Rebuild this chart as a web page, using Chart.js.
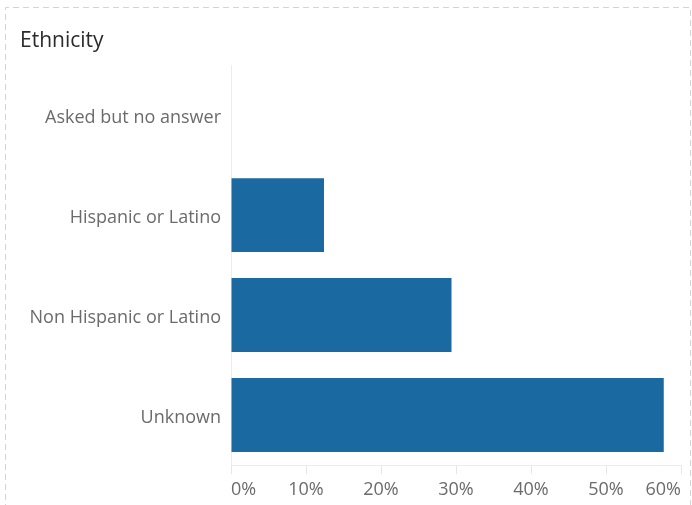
<!DOCTYPE html>
<html>
<head>
<meta charset="utf-8">
<script src="https://cdn.jsdelivr.net/npm/chart.js@4/dist/chart.umd.min.js"></script>
<style>
  html, body { margin: 0; padding: 0; background: #fff; }
  #wrap { position: absolute; left: 0; top: 0; width: 692px; height: 505px; }
</style>
</head>
<body>
<div id="wrap"><canvas id="c" width="692" height="505"></canvas></div>
<script>
// Share of records by ethnicity (percent)
const categories = ['Asked but no answer', 'Hispanic or Latino', 'Non Hispanic or Latino', 'Unknown'];
const shares = [0, 12.4, 29.4, 57.7];
const axisMax = 60;
const axisStep = 10;

const FONT = "'Open Sans', 'DejaVu Sans', sans-serif";

// Dashed frame around the worksheet
const framePlugin = {
  id: 'frame',
  beforeDraw(chart) {
    const ctx = chart.ctx;
    ctx.save();
    ctx.strokeStyle = '#d4d4d4';
    ctx.lineWidth = 1;
    ctx.setLineDash([6, 4]);
    ctx.beginPath();
    ctx.moveTo(5.5, 520);
    ctx.lineTo(5.5, 7.5);
    ctx.lineTo(690.5, 7.5);
    ctx.lineTo(690.5, 520);
    ctx.stroke();
    ctx.restore();
  }
};

new Chart(document.getElementById('c'), {
  type: 'bar',
  data: {
    labels: categories,
    datasets: [{
      data: shares,
      backgroundColor: '#1a69a1',
      borderWidth: 0,
      barPercentage: 0.74,
      categoryPercentage: 1
    }]
  },
  plugins: [framePlugin],
  options: {
    indexAxis: 'y',
    responsive: false,
    animation: false,
    layout: { padding: { left: 20, right: 11, top: 0, bottom: 0 } },
    plugins: {
      legend: { display: false },
      tooltip: { enabled: false },
      title: {
        display: true,
        text: 'Ethnicity',
        align: 'start',
        color: '#2b2b2b',
        font: { family: FONT, size: 21, weight: 'normal' },
        padding: { top: 28, bottom: 12 }
      }
    },
    scales: {
      y: {
        afterFit(scale) { scale.width = 211; },
        grid: { display: false, drawTicks: false },
        border: { display: true, color: '#ececec', width: 1 },
        ticks: {
          color: '#6b6b6b',
          padding: 10,
          labelOffset: 3,
          font: { family: FONT, size: 18 }
        }
      },
      x: {
        min: 0,
        max: axisMax,
        afterFit(scale) { scale.height = 40; },
        grid: {
          drawOnChartArea: false,
          drawTicks: true,
          tickLength: 9,
          color: '#e6e6e6'
        },
        border: { display: true, color: '#ececec', width: 1 },
        ticks: {
          stepSize: axisStep,
          align: 'inner',
          padding: 5,
          color: '#6b6b6b',
          font: { family: FONT, size: 18 },
          callback: v => v + '%'
        }
      }
    }
  }
});
</script>
</body>
</html>
